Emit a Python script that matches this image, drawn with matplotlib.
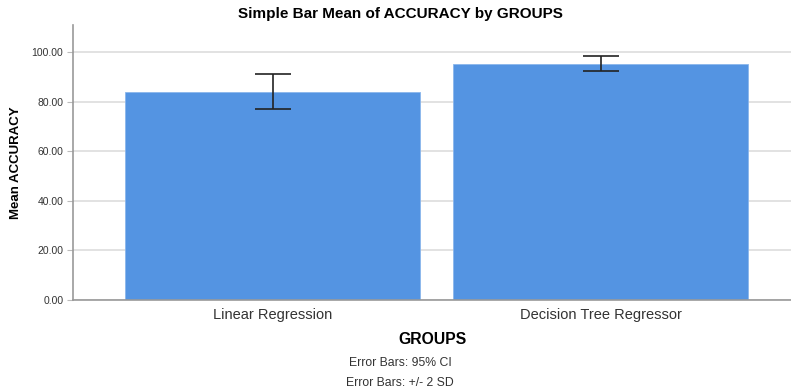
import matplotlib
matplotlib.use('Agg')
from matplotlib import pyplot as plt
import numpy as np

plt.rcParams['font.family'] = ['Liberation Sans', 'DejaVu Sans']

# Data
groups = ['Linear Regression', 'Decision Tree Regressor']
means = [84.1, 95.4]
err_low = [77.3, 92.6]
err_high = [91.1, 98.4]
y_ticks = [0, 20, 40, 60, 80, 100]

x = np.arange(len(groups))
yerr = np.array([[m - lo for m, lo in zip(means, err_low)],
                 [hi - m for m, hi in zip(means, err_high)]])

fig = plt.figure(figsize=(7.91, 3.91), dpi=100)
ax = fig.add_axes([0.0923, 0.2327, 0.9077, 0.7033])

ax.bar(x, means, width=0.9, color='#5494e2', edgecolor='#8ab6ec', linewidth=0.6, zorder=2)
ax.errorbar(x, means, yerr=yerr, fmt='none', ecolor='#222222', elinewidth=1.2,
            capsize=13, capthick=1.2, zorder=3)

ax.set_xlim(-0.608, 1.58)
ax.set_ylim(0, 111)
ax.set_yticks(y_ticks)
ax.set_yticklabels(['%.2f' % v for v in y_ticks], fontsize=7.5, color='#333333')
ax.set_xticks(x)
ax.set_xticklabels(groups, fontsize=10.5, color='#333333')
ax.tick_params(axis='x', length=0, pad=6)
ax.tick_params(axis='y', length=4, color='#bbbbbb', pad=3)

ax.grid(axis='y', color='#dddddd', linewidth=1.2, zorder=0)
ax.set_axisbelow(True)
for s in ['top', 'right']:
    ax.spines[s].set_visible(False)
ax.spines['left'].set_color('#999999')
ax.spines['bottom'].set_color('#999999')
ax.spines['left'].set_linewidth(1.2)
ax.spines['bottom'].set_linewidth(1.2)

ax.set_ylabel('Mean ACCURACY', fontsize=9.5, fontweight='bold', labelpad=7)
ax.set_xlabel('GROUPS', fontsize=11.3, fontweight='bold', labelpad=7)

# title and footnotes centred on the figure
fig.text(0.506, 1 - 14 / 391, 'Simple Bar Mean of ACCURACY by GROUPS',
         fontsize=11, fontweight='bold', ha='center', va='center')
fig.text(0.506, 1 - 363 / 391, 'Error Bars: 95% CI', fontsize=8.8, color='#333333',
         ha='center', va='center')
fig.text(0.506, 1 - 383 / 391, 'Error Bars: +/- 2 SD', fontsize=8.8, color='#333333',
         ha='center', va='center')

fig.savefig('out.png', dpi=100)
